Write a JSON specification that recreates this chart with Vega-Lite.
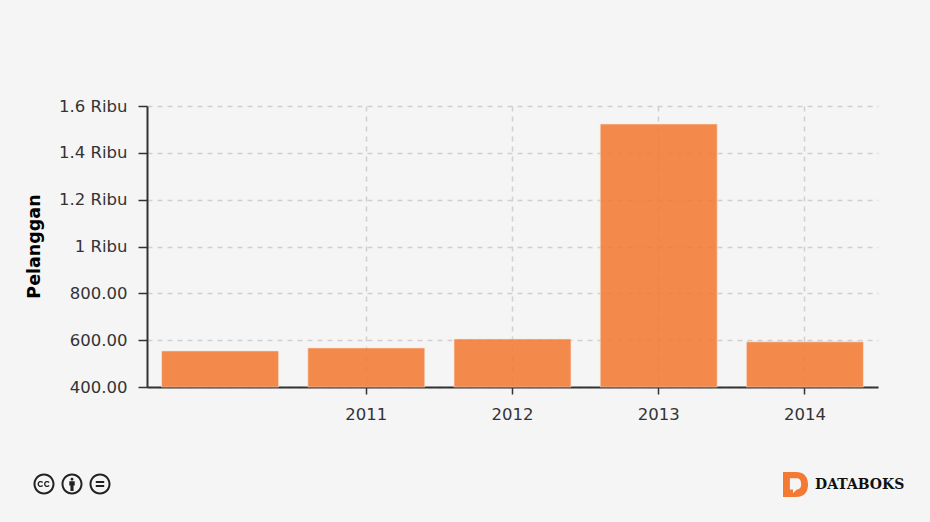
{
  "$schema": "https://vega.github.io/schema/vega-lite/v6.json",
  "width": 731,
  "height": 281,
  "autosize": {"type": "none"},
  "padding": {"left": 147, "top": 106, "right": 52, "bottom": 135},
  "background": "#f5f5f5",
  "config": {"view": {"stroke": null}, "font": "DejaVu Sans"},
  "data": {"values": [
    {"tahun": "", "pelanggan": 554, "sumber": "DATABOKS"},
    {"tahun": "2011", "pelanggan": 567, "sumber": "DATABOKS"},
    {"tahun": "2012", "pelanggan": 605, "sumber": "DATABOKS"},
    {"tahun": "2013", "pelanggan": 1523, "sumber": "DATABOKS"},
    {"tahun": "2014", "pelanggan": 593, "sumber": "DATABOKS"}
  ]},
  "mark": {"type": "bar", "fillOpacity": 0.87, "stroke": "#f8e4d8", "strokeWidth": 1, "strokeOpacity": 0.6},
  "encoding": {
    "x": {
      "field": "tahun", "type": "nominal", "sort": null,
      "scale": {"paddingInner": 0.2, "paddingOuter": 0.1},
      "axis": {
        "values": ["2011", "2012", "2013", "2014"],
        "labelAngle": 0, "labelFont": "DejaVu Sans", "labelFontSize": 16.5, "labelColor": "#333333", "labelPadding": 12,
        "tickColor": "#333333", "tickSize": 7, "tickWidth": 1.5,
        "domainColor": "#333333", "domainWidth": 2,
        "grid": true, "gridColor": "#d0d0d0", "gridDash": [5, 5], "gridWidth": 1.5,
        "title": null
      }
    },
    "y": {
      "field": "pelanggan", "type": "quantitative",
      "scale": {"domain": [400, 1600], "nice": false, "zero": false, "clamp": true},
      "axis": {
        "values": [400, 600, 800, 1000, 1200, 1400, 1600],
        "labelExpr": "datum.value >= 1000 ? format(datum.value / 1000, '.2~f') + ' Ribu' : format(datum.value, '.2f')",
        "labelFont": "DejaVu Sans", "labelFontSize": 16.5, "labelColor": "#333333", "labelPadding": 11,
        "tickColor": "#333333", "tickSize": 9, "tickWidth": 1.5,
        "domainColor": "#333333", "domainWidth": 2,
        "grid": true, "gridColor": "#d0d0d0", "gridDash": [5, 5], "gridWidth": 1.5,
        "title": "Pelanggan", "titleFont": "DejaVu Sans", "titleFontSize": 17.5, "titleFontWeight": "bold", "titleColor": "#000000",
        "titleX": -104, "titleY": 140, "titleAnchor": "middle"
      }
    },
    "color": {
      "field": "sumber", "type": "nominal",
      "scale": {"domain": ["DATABOKS"], "range": ["#f27a33"]},
      "legend": {
        "orient": "none", "legendX": 636, "legendY": 366, "title": null,
        "symbolType": "M-1 -1 L0 -1 C0.8 -1 1 -0.5 1 0 C1 0.5 0.8 1 0 1 L-1 1 Z M-0.45 -0.5 L-0.45 0.4 L-0.2 0.4 L-0.2 0.7 L0.1 0.4 C0.35 0.4 0.45 0.2 0.45 0 C0.45 -0.3 0.35 -0.5 0.1 -0.5 Z",
        "symbolSize": 625, "symbolOpacity": 1, "symbolStrokeWidth": 0,
        "labelFont": "DejaVu Serif", "labelFontSize": 14, "labelFontWeight": "bold", "labelColor": "#111111", "labelOffset": 7
      }
    },
    "opacity": {
      "datum": "cc",
      "scale": {"domain": ["cc"], "range": [1]},
      "legend": {
        "orient": "none", "legendX": -114, "legendY": 339, "title": null,
        "symbolType": "M-0.988 0 A0.27 0.27 0 1 1 -0.448 0 A0.27 0.27 0 1 1 -0.988 0 Z M-0.936 0 A0.218 0.218 0 1 0 -0.5 0 A0.218 0.218 0 1 0 -0.936 0 Z M-0.74 -0.05 A0.08 0.08 0 1 0 -0.74 0.05 L-0.765 0.025 A0.045 0.045 0 1 1 -0.765 -0.025 Z M-0.575 -0.05 A0.08 0.08 0 1 0 -0.575 0.05 L-0.6 0.025 A0.045 0.045 0 1 1 -0.6 -0.025 Z M-0.27 0 A0.27 0.27 0 1 1 0.27 0 A0.27 0.27 0 1 1 -0.27 0 Z M-0.218 0 A0.218 0.218 0 1 0 0.218 0 A0.218 0.218 0 1 0 -0.218 0 Z M-0.038 -0.125 A0.038 0.038 0 1 1 0.038 -0.125 A0.038 0.038 0 1 1 -0.038 -0.125 Z M-0.07 -0.07 L0.07 -0.07 L0.07 0.04 L0.04 0.04 L0.04 0.18 L-0.04 0.18 L-0.04 0.04 L-0.07 0.04 Z M0.448 0 A0.27 0.27 0 1 1 0.988 0 A0.27 0.27 0 1 1 0.448 0 Z M0.5 0 A0.218 0.218 0 1 0 0.936 0 A0.218 0.218 0 1 0 0.5 0 Z M0.61 -0.08 L0.826 -0.08 L0.826 -0.025 L0.61 -0.025 Z M0.61 0.025 L0.826 0.025 L0.826 0.08 L0.61 0.08 Z",
        "symbolSize": 6084, "symbolOpacity": 1, "symbolStrokeWidth": 0, "symbolFillColor": "#222222",
        "labelExpr": "''", "labelFontSize": 1, "labelOffset": 0
      }
    }
  }
}
